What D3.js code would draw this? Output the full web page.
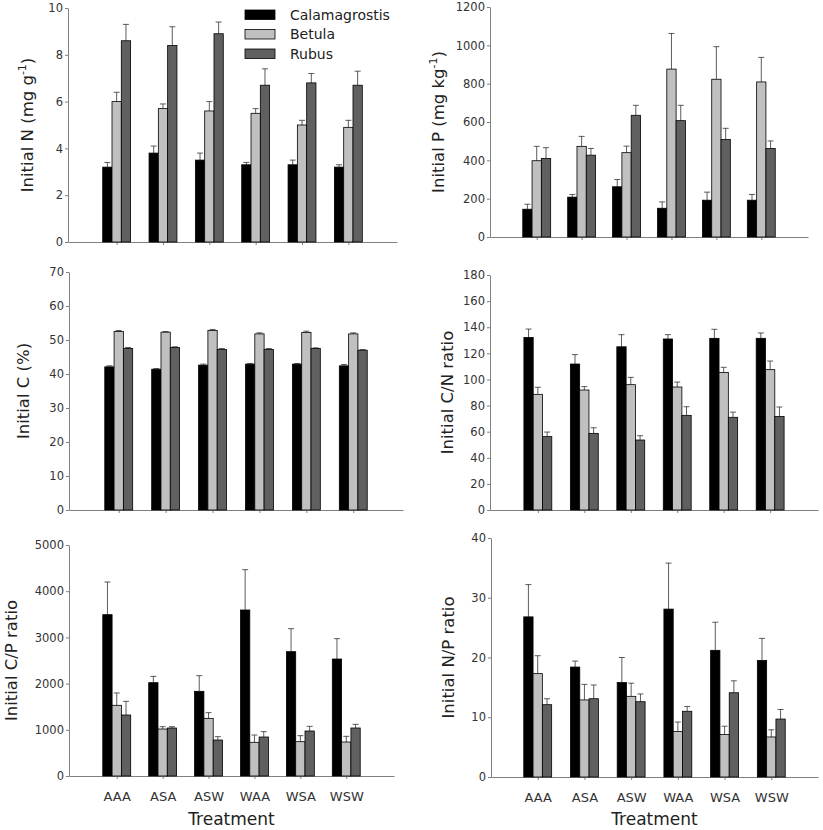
<!DOCTYPE html>
<head>
  <style>
    body { margin: 0; background: #fff; }
    svg text { font-family: "DejaVu Sans", sans-serif; fill: #222; }
    .axis path, .axis line { stroke: #808080; stroke-width: 1; }
    .axis text { font-size: 11.5px; fill: #333; }
  </style>
  <title>Initial litter chemistry by treatment</title>
</head>
<body>
  <script src="https://cdn.jsdelivr.net/npm/d3@7"></script>
  <script>
    // categories and series
    const treatments = ["AAA", "ASA", "ASW", "WAA", "WSA", "WSW"];
    const species = ["Calamagrostis", "Betula", "Rubus"];
    const colors = ["#000000", "#c0c0c0", "#606060"];

    // values, one row per species (Calamagrostis, Betula, Rubus)
    const nMean = [[3.2, 3.8, 3.5, 3.3, 3.3, 3.2], [6.0, 5.7, 5.6, 5.5, 5.0, 4.9], [8.6, 8.4, 8.9, 6.7, 6.8, 6.7]];
    const nSe   = [[0.2, 0.3, 0.3, 0.1, 0.2, 0.1], [0.4, 0.2, 0.4, 0.2, 0.2, 0.3], [0.7, 0.8, 0.5, 0.7, 0.4, 0.6]];
    const pMean = [[145, 208, 262, 150, 192, 192], [398, 473, 440, 876, 823, 809], [410, 427, 635, 607, 509, 462]];
    const pSe   = [[26, 14, 38, 33, 42, 30], [75, 52, 34, 186, 170, 128], [56, 35, 52, 80, 58, 39]];
    const cMean = [[42.1, 41.4, 42.6, 42.9, 42.9, 42.4], [52.5, 52.3, 52.8, 51.8, 52.2, 51.8], [47.5, 47.8, 47.2, 47.2, 47.5, 47.0]];
    const cSe   = [[0.3, 0.2, 0.3, 0.2, 0.2, 0.4], [0.3, 0.2, 0.3, 0.3, 0.4, 0.3], [0.3, 0.2, 0.3, 0.3, 0.2, 0.2]];
    const cnMean = [[132.2, 111.8, 125, 131, 131.5, 131.5], [88.6, 91.9, 96, 94.2, 105.4, 107.5], [56.2, 58.7, 53.6, 72.5, 71, 71.7]];
    const cnSe   = [[6.4, 7.2, 9.3, 3.3, 6.9, 4.1], [5.4, 2.6, 5.6, 3.8, 3.9, 6.6], [3.5, 4.3, 3.3, 6.6, 4, 7.2]];
    const cpMean = [[3492, 2020, 1833, 3593, 2691, 2532], [1530, 1017, 1248, 729, 743, 736], [1320, 1039, 779, 844, 974, 1039]];
    const cpSe   = [[707, 137, 339, 873, 498, 441], [267, 51, 123, 158, 130, 123], [296, 29, 72, 116, 101, 79]];
    const npMean = [[26.8, 18.4, 15.8, 28.1, 21.2, 19.5], [17.3, 12.9, 13.5, 7.6, 7.1, 6.7], [12.1, 13.1, 12.6, 11.0, 14.1, 9.7]];
    const npSe   = [[5.4, 1.0, 4.2, 7.7, 4.7, 3.7], [3.0, 2.6, 2.2, 1.6, 1.4, 1.2], [1.0, 2.3, 1.3, 0.8, 2.0, 1.6]];

    // y tick labels
    const nTicks = [0, 2, 4, 6, 8, 10];
    const pTicks = [0, 200, 400, 600, 800, 1000, 1200];
    const cTicks = [0, 10, 20, 30, 40, 50, 60, 70];
    const cnTicks = [0, 20, 40, 60, 80, 100, 120, 140, 160, 180];
    const cpTicks = [0, 1000, 2000, 3000, 4000, 5000];
    const npTicks = [0, 10, 20, 30, 40];

    // panel placement on the page
    const panels = [
      { mean: nMean, se: nSe, ticks: nTicks, x0: 68, x1: 397, pad: 1.05, top: 8, bottom: 242, labX: 33, label: ["Initial N (mg g", "-1", ")"] },
      { mean: pMean, se: pSe, ticks: pTicks, x0: 490, x1: 808, pad: 1.04, top: 7, bottom: 237, labX: 444, label: ["Initial P (mg kg", "-1", ")"] },
      { mean: cMean, se: cSe, ticks: cTicks, x0: 69, x1: 403, pad: 1.06, top: 272, bottom: 510, labX: 29, label: ["Initial C (%)"] },
      { mean: cnMean, se: cnSe, ticks: cnTicks, x0: 490, x1: 818, pad: 1.03, top: 275, bottom: 510, labX: 453, label: ["Initial C/N ratio"] },
      { mean: cpMean, se: cpSe, ticks: cpTicks, x0: 69, x1: 394, pad: 1.04, top: 545, bottom: 776, labX: 17, label: ["Initial C/P ratio"], bottomRow: true },
      { mean: npMean, se: npSe, ticks: npTicks, x0: 491, x1: 818, pad: 1.0, top: 538, bottom: 777, labX: 454, label: ["Initial N/P ratio"], bottomRow: true }
    ];

    const svg = d3.select("body").append("svg")
      .attr("width", 823)
      .attr("height", 830);

    panels.forEach((p) => {
      const x = d3.scalePoint().domain(treatments).range([p.x0, p.x1]).padding(p.pad);
      const y = d3.scaleLinear().domain([0, d3.max(p.ticks)]).range([p.bottom, p.top]);
      const bw = 9.3;
      const g = svg.append("g");

      // x axis
      const xAxis = d3.axisBottom(x).tickSize(3).tickSizeOuter(0).tickPadding(13);
      const xg = g.append("g").attr("class", "axis")
        .attr("transform", `translate(0,${p.bottom})`)
        .call(xAxis);
      xg.selectAll("text").style("font-size", "13px");
      if (!p.bottomRow) xg.selectAll("text").remove();

      // y axis
      g.append("g").attr("class", "axis")
        .attr("transform", `translate(${p.x0},0)`)
        .call(d3.axisLeft(y).tickValues(p.ticks).tickFormat(d3.format("d"))
          .tickSize(3).tickSizeOuter(0).tickPadding(2));

      // bars + error bars
      species.forEach((s, si) => {
        const off = (si - 1) * bw;
        const rows = treatments.map((t, i) => ({ t: t, m: p.mean[si][i], e: p.se[si][i] }));

        g.selectAll(null).data(rows).enter().append("line")
          .attr("x1", (d) => x(d.t) + off)
          .attr("x2", (d) => x(d.t) + off)
          .attr("y1", (d) => y(d.m))
          .attr("y2", (d) => y(d.m + d.e))
          .attr("stroke", "#333").attr("stroke-width", 0.8);
        g.selectAll(null).data(rows).enter().append("line")
          .attr("x1", (d) => x(d.t) + off - 3)
          .attr("x2", (d) => x(d.t) + off + 3)
          .attr("y1", (d) => y(d.m + d.e))
          .attr("y2", (d) => y(d.m + d.e))
          .attr("stroke", "#333").attr("stroke-width", 0.8);

        g.selectAll(null).data(rows).enter().append("rect")
          .attr("x", (d) => x(d.t) + off - bw / 2)
          .attr("y", (d) => y(d.m))
          .attr("width", bw)
          .attr("height", (d) => p.bottom - y(d.m))
          .attr("fill", colors[si])
          .attr("stroke", "#000")
          .attr("stroke-width", 0.8);
      });

      // y axis label
      const lab = g.append("text")
        .attr("transform", `translate(${p.labX},${(p.top + p.bottom) / 2}) rotate(-90)`)
        .attr("text-anchor", "middle")
        .style("font-size", "16.5px");
      lab.append("tspan").text(p.label[0]);
      if (p.label.length > 1) {
        lab.append("tspan").attr("dy", -7).style("font-size", "11px").text(p.label[1]);
        lab.append("tspan").attr("dy", 7).text(p.label[2]);
      }

      if (p.bottomRow) {
        g.append("text")
          .attr("x", (p.x0 + p.x1) / 2)
          .attr("y", 825)
          .attr("text-anchor", "middle")
          .style("font-size", "17px")
          .text("Treatment");
      }
    });

    // legend
    const legend = svg.append("g").attr("transform", "translate(245,10)");
    species.forEach((s, i) => {
      legend.append("rect")
        .attr("x", 0).attr("y", i * 19.5)
        .attr("width", 30).attr("height", 9.5)
        .attr("fill", colors[i]).attr("stroke", "#000").attr("stroke-width", 0.8);
      legend.append("text")
        .attr("x", 45).attr("y", i * 19.5 + 9.5)
        .style("font-size", "14px")
        .text(s);
    });
  </script>
</body>
